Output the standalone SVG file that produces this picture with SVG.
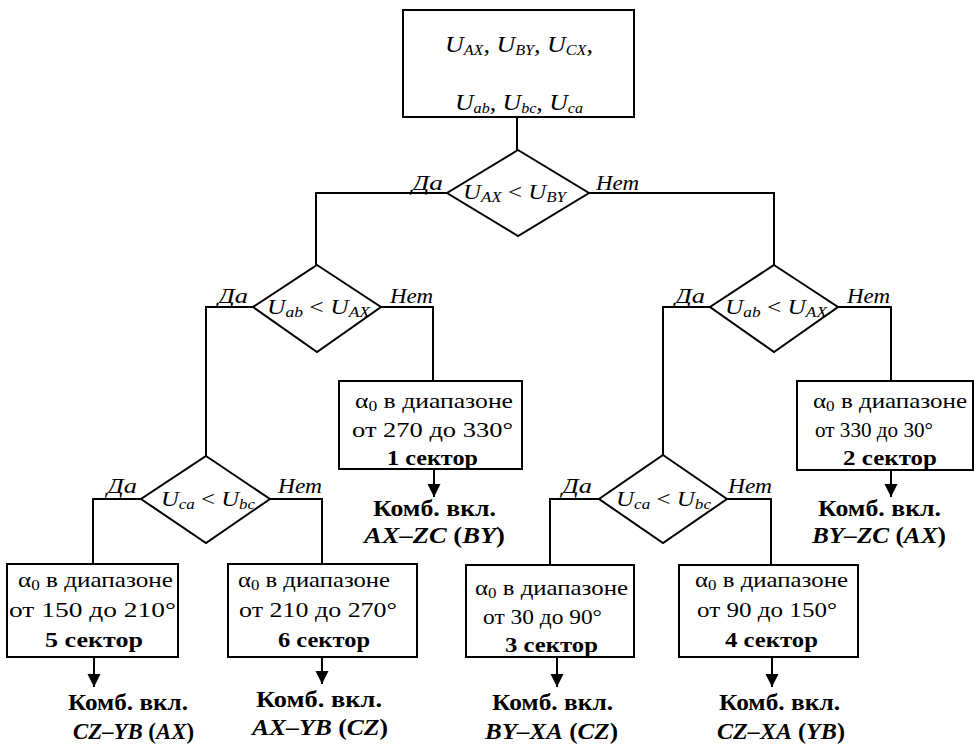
<svg xmlns="http://www.w3.org/2000/svg" width="974" height="745" viewBox="0 0 974 745" font-family="Liberation Serif, DejaVu Serif, serif">
<style>
.ln{fill:none;stroke:#000;stroke-width:2}
.bx{fill:#fff;stroke:#000;stroke-width:2}
text{font-family:"Liberation Serif","DejaVu Serif",serif}
.t{fill:#000;font-size:22px}
.i{font-style:italic}
.b{font-weight:bold}
.s{font-size:15px}
.big{font-size:24px}
.lb{font-size:23px;font-weight:bold}
</style>
<defs>
<marker id="ah" markerUnits="userSpaceOnUse" markerWidth="14" markerHeight="14" refX="13" refY="6.5" orient="auto">
<path d="M0,0 L13,6.5 L0,13 z" fill="#000"/>
</marker>
</defs>
<rect width="974" height="745" fill="#fff"/>

<g id="connectors">
<polyline class="ln" points="517,117 517,150"/>
<polyline class="ln" points="447,193 316,193 316,265"/>
<polyline class="ln" points="589,193 774,193 774,265"/>
<polyline class="ln" points="253,307 206,307 206,456"/>
<polyline class="ln" points="381,307 433,307 433,381"/>
<polyline class="ln" points="710,307 663,307 663,455"/>
<polyline class="ln" points="838,307 891,307 891,381"/>
<polyline class="ln" points="141,499 93,499 93,564"/>
<polyline class="ln" points="270,499 322,499 322,564"/>
<polyline class="ln" points="599,499 550,499 550,565"/>
<polyline class="ln" points="727,499 771,499 771,565"/>
<line class="ln" x1="434" y1="469" x2="434" y2="497" marker-end="url(#ah)"/>
<line class="ln" x1="891" y1="470" x2="891" y2="497" marker-end="url(#ah)"/>
<line class="ln" x1="94" y1="657" x2="94" y2="687" marker-end="url(#ah)"/>
<line class="ln" x1="322" y1="657" x2="322" y2="684" marker-end="url(#ah)"/>
<line class="ln" x1="557" y1="657" x2="557" y2="687" marker-end="url(#ah)"/>
<line class="ln" x1="772" y1="657" x2="772" y2="687" marker-end="url(#ah)"/>
<text class="t i" x="412" y="190" textLength="31" lengthAdjust="spacingAndGlyphs">Да</text>
<text class="t i" x="596" y="190" textLength="43" lengthAdjust="spacingAndGlyphs">Нет</text>
<text class="t i" x="218" y="303" textLength="30" lengthAdjust="spacingAndGlyphs">Да</text>
<text class="t i" x="390" y="303" textLength="43" lengthAdjust="spacingAndGlyphs">Нет</text>
<text class="t i" x="675" y="303" textLength="30" lengthAdjust="spacingAndGlyphs">Да</text>
<text class="t i" x="847" y="303" textLength="43" lengthAdjust="spacingAndGlyphs">Нет</text>
<text class="t i" x="107" y="493" textLength="30" lengthAdjust="spacingAndGlyphs">Да</text>
<text class="t i" x="278" y="493" textLength="44" lengthAdjust="spacingAndGlyphs">Нет</text>
<text class="t i" x="562" y="493" textLength="30" lengthAdjust="spacingAndGlyphs">Да</text>
<text class="t i" x="728" y="493" textLength="44" lengthAdjust="spacingAndGlyphs">Нет</text>
</g>

<g id="start">
<rect class="bx" x="403" y="10" width="231" height="107"/>
<text class="t i big" x="445" y="52" textLength="148" lengthAdjust="spacingAndGlyphs">U<tspan class="s" dy="3">AX</tspan><tspan dy="-3">, U</tspan><tspan class="s" dy="3">BY</tspan><tspan dy="-3">, U</tspan><tspan class="s" dy="3">CX</tspan><tspan dy="-3">,</tspan></text>
<text class="t i big" x="455" y="110" textLength="128" lengthAdjust="spacingAndGlyphs">U<tspan class="s" dy="3">ab</tspan><tspan dy="-3">, U</tspan><tspan class="s" dy="3">bc</tspan><tspan dy="-3">, U</tspan><tspan class="s" dy="3">ca</tspan></text>
</g>

<g id="d1">
<polygon class="bx" points="518,150 589,193 518,236 447,193"/>
<text class="t i" x="463" y="199" textLength="103" lengthAdjust="spacingAndGlyphs">U<tspan class="s" dy="3">AX</tspan><tspan dy="-3" font-style="normal"> &lt; </tspan>U<tspan class="s" dy="3">BY</tspan></text>
</g>

<g id="d2">
<polygon class="bx" points="317,265 381,307 317,352 253,307"/>
<text class="t i" x="267" y="314" textLength="103" lengthAdjust="spacingAndGlyphs">U<tspan class="s" dy="3">ab</tspan><tspan dy="-3" font-style="normal"> &lt; </tspan>U<tspan class="s" dy="3">AX</tspan></text>
</g>

<g id="d3">
<polygon class="bx" points="774,265 838,307 774,352 710,307"/>
<text class="t i" x="725" y="314" textLength="102" lengthAdjust="spacingAndGlyphs">U<tspan class="s" dy="3">ab</tspan><tspan dy="-3" font-style="normal"> &lt; </tspan>U<tspan class="s" dy="3">AX</tspan></text>
</g>

<g id="d4">
<polygon class="bx" points="206,456 270,499 206,543 141,499"/>
<text class="t i" x="161" y="506" textLength="94" lengthAdjust="spacingAndGlyphs">U<tspan class="s" dy="3">ca</tspan><tspan dy="-3" font-style="normal"> &lt; </tspan>U<tspan class="s" dy="3">bc</tspan></text>
</g>

<g id="d5">
<polygon class="bx" points="663,455 727,499 663,543 599,499"/>
<text class="t i" x="616" y="506" textLength="95" lengthAdjust="spacingAndGlyphs">U<tspan class="s" dy="3">ca</tspan><tspan dy="-3" font-style="normal"> &lt; </tspan>U<tspan class="s" dy="3">bc</tspan></text>
</g>

<g id="sector1">
<rect class="bx" x="339" y="381" width="183" height="88"/>
<text class="t" x="355" y="408" textLength="158" lengthAdjust="spacingAndGlyphs">α<tspan class="s" dy="3">0</tspan><tspan dy="-3"> в диапазоне</tspan></text>
<text class="t" x="352" y="437" textLength="161" lengthAdjust="spacingAndGlyphs">от 270 до 330°</text>
<text class="t b" x="387" y="465" textLength="91" lengthAdjust="spacingAndGlyphs">1 сектор</text>
</g>

<g id="sector2">
<rect class="bx" x="797" y="381" width="176" height="89"/>
<text class="t" x="813" y="408" textLength="154" lengthAdjust="spacingAndGlyphs">α<tspan class="s" dy="3">0</tspan><tspan dy="-3"> в диапазоне</tspan></text>
<text class="t" x="815" y="437" textLength="118" lengthAdjust="spacingAndGlyphs">от 330 до 30°</text>
<text class="t b" x="843" y="465" textLength="94" lengthAdjust="spacingAndGlyphs">2 сектор</text>
</g>

<g id="sector5">
<rect class="bx" x="7" y="564" width="171" height="93"/>
<text class="t" x="18" y="587" textLength="155" lengthAdjust="spacingAndGlyphs">α<tspan class="s" dy="3">0</tspan><tspan dy="-3"> в диапазоне</tspan></text>
<text class="t" x="9" y="617" textLength="167" lengthAdjust="spacingAndGlyphs">от 150 до 210°</text>
<text class="t b" x="45" y="647" textLength="98" lengthAdjust="spacingAndGlyphs">5 сектор</text>
</g>

<g id="sector6">
<rect class="bx" x="228" y="564" width="189" height="93"/>
<text class="t" x="238" y="587" textLength="152" lengthAdjust="spacingAndGlyphs">α<tspan class="s" dy="3">0</tspan><tspan dy="-3"> в диапазоне</tspan></text>
<text class="t" x="239" y="617" textLength="158" lengthAdjust="spacingAndGlyphs">от 210 до 270°</text>
<text class="t b" x="278" y="647" textLength="92" lengthAdjust="spacingAndGlyphs">6 сектор</text>
</g>

<g id="sector3">
<rect class="bx" x="466" y="565" width="168" height="92"/>
<text class="t" x="475" y="595" textLength="153" lengthAdjust="spacingAndGlyphs">α<tspan class="s" dy="3">0</tspan><tspan dy="-3"> в диапазоне</tspan></text>
<text class="t" x="483" y="624" textLength="119" lengthAdjust="spacingAndGlyphs">от 30 до 90°</text>
<text class="t b" x="505" y="652" textLength="93" lengthAdjust="spacingAndGlyphs">3 сектор</text>
</g>

<g id="sector4">
<rect class="bx" x="679" y="565" width="179" height="92"/>
<text class="t" x="695" y="587" textLength="153" lengthAdjust="spacingAndGlyphs">α<tspan class="s" dy="3">0</tspan><tspan dy="-3"> в диапазоне</tspan></text>
<text class="t" x="697" y="617" textLength="140" lengthAdjust="spacingAndGlyphs">от 90 до 150°</text>
<text class="t b" x="725" y="647" textLength="93" lengthAdjust="spacingAndGlyphs">4 сектор</text>
</g>

<g id="result1">
<text class="t lb" x="373" y="516" textLength="123" lengthAdjust="spacingAndGlyphs">Комб. вкл.</text>
<text class="t lb" x="364" y="543" textLength="141" lengthAdjust="spacingAndGlyphs"><tspan class="i">AX–ZC</tspan> (<tspan class="i">BY</tspan>)</text>
</g>

<g id="result2">
<text class="t lb" x="818" y="516" textLength="123" lengthAdjust="spacingAndGlyphs">Комб. вкл.</text>
<text class="t lb" x="812" y="543" textLength="134" lengthAdjust="spacingAndGlyphs"><tspan class="i">BY–ZC</tspan> (<tspan class="i">AX</tspan>)</text>
</g>

<g id="result5">
<text class="t lb" x="68" y="710" textLength="120" lengthAdjust="spacingAndGlyphs">Комб. вкл.</text>
<text class="t lb" x="73" y="739" textLength="121" lengthAdjust="spacingAndGlyphs"><tspan class="i">CZ–YB</tspan> (<tspan class="i">AX</tspan>)</text>
</g>

<g id="result6">
<text class="t lb" x="256" y="707" textLength="126" lengthAdjust="spacingAndGlyphs">Комб. вкл.</text>
<text class="t lb" x="252" y="735" textLength="136" lengthAdjust="spacingAndGlyphs"><tspan class="i">AX–YB</tspan> (<tspan class="i">CZ</tspan>)</text>
</g>

<g id="result3">
<text class="t lb" x="492" y="710" textLength="121" lengthAdjust="spacingAndGlyphs">Комб. вкл.</text>
<text class="t lb" x="485" y="739" textLength="133" lengthAdjust="spacingAndGlyphs"><tspan class="i">BY–XA</tspan> (<tspan class="i">CZ</tspan>)</text>
</g>

<g id="result4">
<text class="t lb" x="719" y="710" textLength="121" lengthAdjust="spacingAndGlyphs">Комб. вкл.</text>
<text class="t lb" x="717" y="739" textLength="128" lengthAdjust="spacingAndGlyphs"><tspan class="i">CZ–XA</tspan> (<tspan class="i">YB</tspan>)</text>
</g>
</svg>
